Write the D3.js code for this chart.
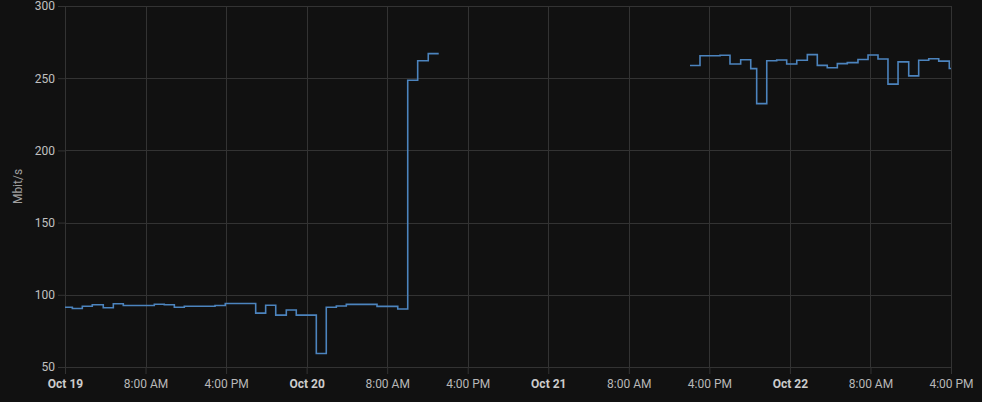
<!DOCTYPE html>
<html>
<head>
<meta charset="utf-8">
<script src="https://cdn.jsdelivr.net/npm/d3@7"></script>
<style>
  html, body { margin: 0; padding: 0; background: #111111; }
  svg { display: block; }
  text { font-family: Roboto, "Noto Sans", sans-serif; }
</style>
</head>
<body>
<svg id="chart" width="982" height="402"></svg>
<script>
// ---- data (hours after Oct 19 00:00, Mbit/s) ----
const seriesA_hours = [-0.27, 0.73, 1.72, 2.71, 3.80, 4.80, 5.79, 6.78, 7.78, 8.87, 9.86, 10.86, 11.85, 12.86, 13.88, 14.90, 15.92, 16.93, 17.94, 18.94, 19.93, 20.93, 21.98, 22.97, 23.97, 24.96, 25.95, 26.95, 27.94, 28.95, 29.98, 30.99, 32.02, 33.05, 34.04, 35.03, 36.08, 37.12];
const seriesA_values = [91.4, 90.5, 92.1, 93.1, 91.0, 93.8, 92.6, 92.6, 92.6, 93.5, 93.1, 91.4, 92.1, 92.1, 92.1, 92.6, 94.0, 94.0, 94.0, 87.3, 92.8, 85.9, 89.5, 85.9, 85.9, 59.3, 91.4, 92.2, 93.4, 93.4, 93.4, 92.0, 92.0, 90.2, 248.6, 262.1, 267.0, 267.0];
const seriesB_hours = [62.08, 63.07, 64.07, 65.06, 66.05, 67.11, 68.11, 68.70, 69.70, 70.69, 71.68, 72.68, 73.73, 74.72, 75.71, 76.71, 77.70, 78.76, 79.76, 80.75, 81.74, 82.74, 83.80, 84.79, 85.79, 86.78, 87.83, 88.82];
const seriesB_values = [258.8, 265.5, 265.5, 265.9, 259.8, 262.8, 256.6, 232.4, 262.1, 262.6, 259.8, 262.4, 266.3, 258.9, 257.2, 260.1, 260.8, 263.0, 266.1, 263.3, 245.9, 261.3, 251.6, 262.4, 263.5, 261.8, 256.7, 256.7];
const yTicks = [50, 100, 150, 200, 250, 300];
const xTickHours = [0, 8, 16, 24, 32, 40, 48, 56, 64, 72, 80, 88];
const yLabel = "Mbit/s";

(function () {
// ---- layout ----
const W = 982, H = 402;
const mLeft = 65, mRight = 951, mTop = 6, mBottom = 367;
const base = new Date(2019, 9, 19, 0, 0, 0);
const toDate = h => new Date(base.getTime() + h * 3600 * 1000);

const svg = d3.select("#chart");
svg.append("rect").attr("width", W).attr("height", H).attr("fill", "#111111");

const x = d3.scaleTime().domain([toDate(0), toDate(88)]).range([mLeft, mRight]);
const y = d3.scaleLinear().domain([50, 300]).range([mBottom, mTop]);

const gridColor = "#333333";

// horizontal grid
svg.append("g").selectAll("line").data(yTicks).join("line")
  .attr("x1", mLeft).attr("x2", mRight)
  .attr("y1", d => Math.round(y(d)) + 0.5).attr("y2", d => Math.round(y(d)) + 0.5)
  .attr("stroke", gridColor).attr("stroke-width", 1);

// vertical grid
const xTicks = xTickHours.map(toDate);
svg.append("g").selectAll("line").data(xTicks).join("line")
  .attr("x1", d => Math.round(x(d)) + 0.5).attr("x2", d => Math.round(x(d)) + 0.5)
  .attr("y1", mTop).attr("y2", mBottom)
  .attr("stroke", gridColor).attr("stroke-width", 1);

// y axis
const yAxis = d3.axisLeft(y).tickValues(yTicks).tickSize(7).tickPadding(3).tickFormat(d3.format("d"));
const gy = svg.append("g").attr("transform", `translate(${mLeft},0)`).call(yAxis);
gy.select(".domain").remove();
gy.selectAll(".tick line").attr("stroke", gridColor);
gy.selectAll(".tick text").attr("fill", "#c0c0c0").style("font-size", "12px");

// x axis
const fmtDay = d3.timeFormat("%b %-d");
const fmtTime = d3.timeFormat("%-I:%M %p");
const xAxis = d3.axisBottom(x).tickValues(xTicks).tickSize(7).tickPadding(5)
  .tickFormat(d => d.getHours() === 0 ? fmtDay(d) : fmtTime(d));
const gx = svg.append("g").attr("transform", `translate(0,${mBottom})`).call(xAxis);
gx.select(".domain").remove();
gx.selectAll(".tick line").attr("stroke", gridColor);
gx.selectAll(".tick text")
  .attr("fill", d => d.getHours() === 0 ? "#cccccc" : "#b8b8b8")
  .style("font-weight", d => d.getHours() === 0 ? "bold" : "normal")
  .style("font-size", "12px");

// y label
svg.append("text")
  .attr("transform", `translate(22,${(mTop + mBottom) / 2}) rotate(-90)`)
  .attr("text-anchor", "middle")
  .attr("fill", "#a0a0a0")
  .style("font-size", "12px")
  .text(yLabel);

// clip
svg.append("clipPath").attr("id", "plotclip")
  .append("rect").attr("x", mLeft).attr("y", mTop - 2).attr("width", mRight - mLeft).attr("height", mBottom - mTop + 4);

const line = d3.line()
  .x(d => x(toDate(d[0])))
  .y(d => y(d[1]))
  .curve(d3.curveStepAfter);

const segA = seriesA_hours.map((h, i) => [h, seriesA_values[i]]);
const segB = seriesB_hours.map((h, i) => [h, seriesB_values[i]]);

const lg = svg.append("g").attr("clip-path", "url(#plotclip)");
[segA, segB].forEach(seg => {
  lg.append("path").datum(seg)
    .attr("d", line)
    .attr("fill", "none")
    .attr("stroke", "#4c84be")
    .attr("stroke-width", 1.6);
});
})();
</script>
</body>
</html>
